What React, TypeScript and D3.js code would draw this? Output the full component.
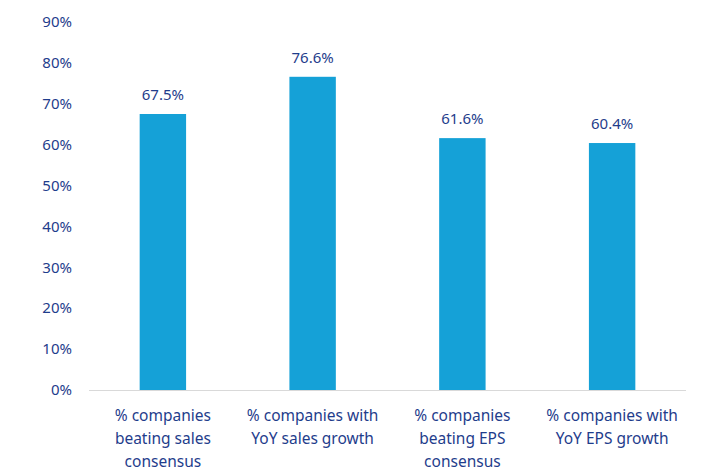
import { useEffect, useRef } from 'react';
import * as d3 from 'd3';

const categories: string[][] = [
    ['% companies', 'beating sales', 'consensus'],
    ['% companies with', 'YoY sales growth'],
    ['% companies', 'beating EPS', 'consensus'],
    ['% companies with', 'YoY EPS growth'],
];
const values: number[] = [67.5, 76.6, 61.6, 60.4];
const yTicks: number[] = [0, 10, 20, 30, 40, 50, 60, 70, 80, 90];

const TEXT = '#1f3d8c';
const BAR = '#15a1d7';

const App = () => {
    const svgRef = useRef<SVGSVGElement>(null);

    useEffect(() => {
        if (!svgRef.current) return;
        const svg = d3.select(svgRef.current);
        svg.selectAll('*').remove();

        const width = 703;
        const height = 471;
        const font = '"Noto Sans", Lato, sans-serif';

        svg.attr('width', width).attr('height', height);

        const keys = categories.map((_, i) => String(i));

        const x = d3.scaleBand()
            .domain(keys)
            .range([88, 687])
            .paddingInner(0.69)
            .paddingOuter(0.345);

        const y = d3.scaleLinear()
            .domain([0, 90])
            .range([390, 22]);

        // Y tick labels
        svg.append('g')
            .selectAll('text')
            .data(yTicks)
            .enter()
            .append('text')
            .attr('x', 72)
            .attr('y', d => y(d))
            .attr('dy', '0.35em')
            .attr('text-anchor', 'end')
            .attr('font-family', font)
            .attr('font-size', '15px')
            .attr('fill', TEXT)
            .text(d => `${d}%`);

        // Bars
        svg.append('g')
            .selectAll('rect')
            .data(values)
            .enter()
            .append('rect')
            .attr('x', (_, i) => x(String(i)) || 0)
            .attr('y', d => y(d))
            .attr('width', x.bandwidth())
            .attr('height', d => y(0) - y(d))
            .attr('fill', BAR);

        // Baseline
        svg.append('line')
            .attr('x1', 89)
            .attr('x2', 686)
            .attr('y1', y(0) + 0.5)
            .attr('y2', y(0) + 0.5)
            .attr('stroke', '#d9d9d9')
            .attr('stroke-width', 1);

        // Value labels
        svg.append('g')
            .selectAll('text')
            .data(values)
            .enter()
            .append('text')
            .attr('x', (_, i) => (x(String(i)) || 0) + x.bandwidth() / 2)
            .attr('y', d => y(d) - 14)
            .attr('text-anchor', 'middle')
            .attr('font-family', font)
            .attr('font-size', '15px')
            .attr('fill', TEXT)
            .text(d => `${d.toFixed(1)}%`);

        // Category labels
        const cat = svg.append('g')
            .selectAll('text')
            .data(categories)
            .enter()
            .append('text')
            .attr('x', (_, i) => (x(String(i)) || 0) + x.bandwidth() / 2)
            .attr('y', 421)
            .attr('text-anchor', 'middle')
            .attr('font-family', font)
            .attr('font-size', '15.5px')
            .attr('fill', TEXT);

        cat.selectAll('tspan')
            .data(d => d.map((line, j) => ({ line, j })))
            .enter()
            .append('tspan')
            .attr('x', function () {
                return (this.parentNode as SVGTextElement).getAttribute('x');
            })
            .attr('dy', d => (d.j === 0 ? 0 : 23))
            .text(d => d.line);
    }, []);

    return (
        <div style={{ position: 'fixed', left: 0, top: 0, background: '#fff' }}>
            <svg ref={svgRef} style={{ display: 'block' }}></svg>
        </div>
    );
};

export default App;
